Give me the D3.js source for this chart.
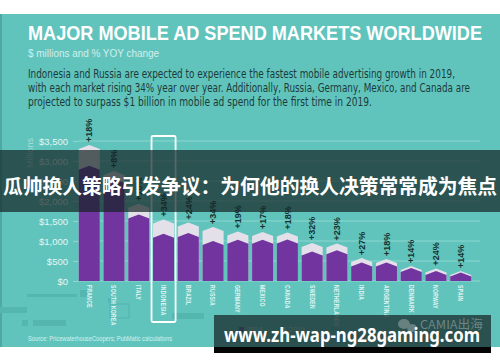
<!DOCTYPE html>
<html lang="en">

<head>
  <meta charset="UTF-8">
  <title>Major Mobile Ad Spend Markets Worldwide</title>
  <style>
    * {
      margin: 0;
      padding: 0;
      box-sizing: border-box;
    }

    body {
      background-color: #ffffff;
      width: 500px;
      height: 362px;
      overflow: hidden;
    }

    #chart {
      display: block;
    }

    .narrow {
      font-family: "Liberation Sans Narrow", "DejaVu Sans Condensed", "Roboto", sans-serif;
    }
  </style>
  <script src="https://cdnjs.cloudflare.com/ajax/libs/d3/7.8.5/d3.min.js"></script>
</head>

<body>
  <svg id="chart" width="500" height="362"></svg>

  <script>
    // chart data
    const countries = ['FRANCE', 'SOUTH KOREA', 'ITALY', 'INDONESIA', 'BRAZIL', 'RUSSIA', 'GERMANY', 'MEXICO',
      'CANADA', 'SWEDEN', 'NETHERLANDS', 'INDIA', 'ARGENTINA', 'DENMARK', 'NORWAY', 'SPAIN'];
    const spend2018 = [2880, 2550, 1660, 1180, 1200, 1000, 1030, 1030, 1040, 740, 770, 460, 465, 325, 250, 215];
    const spend2019 = [3400, 2750, 1930, 1540, 1460, 1350, 1240, 1225, 1210, 950, 935, 575, 550, 375, 310, 250];
    const growthLabels = ['+18%', '+8%', '+16%', '+34%', '+24%', '+34%', '+19%', '+17%',
      '+18%', '+32%', '+23%', '+27%', '+18%', '+14%', '+24%', '+14%'];
    const yTicks = [0, 500, 1000, 1500, 2000, 2500, 3000, 3500];
    const seriesNames = ['2018', '2019'];
    const highlighted = 'INDONESIA';

    const colors = {
      bg: '#60c4bd',
      grid: '#8bd6d0',
      purple: '#72349e',
      cap: '#e4e0ea',
      axisText: '#e4f6f4',
      dark: '#16302f'
    };

    const svg = d3.select('#chart');

    // background panel
    svg.append('rect')
      .attr('x', 0).attr('y', 14)
      .attr('width', 500).attr('height', 333)
      .attr('fill', colors.bg);
    svg.append('rect')
      .attr('x', 0).attr('y', 14)
      .attr('width', 2).attr('height', 333)
      .attr('fill', '#4fa9a3');

    // faded leftovers of the old legend block
    const ghosts = [[27, 294, 50, 3], [80, 290, 7, 7], [0, 307, 27, 6], [22, 320, 6, 6], [33, 320, 33, 6],
      [108, 298, 3, 5], [172, 313, 32, 6]];
    svg.append('g').selectAll('rect')
      .data(ghosts)
      .join('rect')
      .attr('x', d => d[0]).attr('y', d => d[1])
      .attr('width', d => d[2]).attr('height', d => d[3])
      .attr('fill', '#55b6af');
    svg.append('rect')
      .attr('x', 110).attr('y', 304).attr('width', 19).attr('height', 14)
      .attr('fill', 'none').attr('stroke', '#55b6af').attr('stroke-width', 1.2);

    // headings
    svg.append('text')
      .attr('x', 28).attr('y', 40)
      .attr('textLength', 454).attr('lengthAdjust', 'spacingAndGlyphs')
      .attr('fill', '#ffffff')
      .style('font-family', 'Liberation Sans, Arial, sans-serif')
      .style('font-size', '21px').style('font-weight', 'bold')
      .text('MAJOR MOBILE AD SPEND MARKETS WORLDWIDE');

    svg.append('text')
      .attr('x', 28).attr('y', 57)
      .attr('textLength', 131).attr('lengthAdjust', 'spacingAndGlyphs')
      .attr('fill', '#d3efec')
      .style('font-family', 'Liberation Sans, Arial, sans-serif')
      .style('font-size', '10px')
      .text('$ millions and % YOY change');

    const intro = [
      ['Indonesia and Russia are expected to experience the fastest mobile advertising growth in 2019,', 427],
      ['with each market rising 34% year over year. Additionally, Russia, Germany, Mexico, and Canada are', 442],
      ['projected to surpass $1 billion in mobile ad spend for the first time in 2019.', 344]
    ];
    svg.append('g').selectAll('text')
      .data(intro)
      .join('text')
      .attr('class', 'narrow')
      .attr('x', 28).attr('y', (d, i) => 78 + i * 14)
      .attr('textLength', d => d[1]).attr('lengthAdjust', 'spacingAndGlyphs')
      .attr('fill', '#1d3b3a')
      .style('font-size', '12px')
      .text(d => d[0]);

    // scales
    const x = d3.scaleBand()
      .domain(countries)
      .range([77, 473])
      .paddingInner(0.15)
      .paddingOuter(0.07);

    const y = d3.scaleLinear()
      .domain([0, 3500])
      .range([281, 141]);

    // grid
    svg.append('g').selectAll('line')
      .data(yTicks)
      .join('line')
      .attr('x1', 78).attr('x2', 480)
      .attr('y1', d => y(d)).attr('y2', d => y(d))
      .attr('stroke', colors.grid)
      .attr('stroke-width', 1.2);

    // y axis
    const yAxis = svg.append('g')
      .attr('transform', 'translate(78,0)')
      .call(d3.axisLeft(y)
        .tickValues(yTicks)
        .tickSize(5)
        .tickPadding(5)
        .tickFormat(d => '$' + d3.format(',')(d)));
    yAxis.select('.domain').remove();
    yAxis.selectAll('line').attr('stroke', colors.grid).attr('stroke-width', 1.2);
    yAxis.selectAll('text')
      .attr('fill', colors.axisText)
      .style('font-family', 'Liberation Sans, Arial, sans-serif')
      .style('font-size', '9.5px');

    svg.append('text')
      .attr('transform', 'translate(33,153) rotate(-90)')
      .attr('text-anchor', 'middle')
      .attr('fill', '#a6dcd8')
      .style('font-family', 'Liberation Sans, Arial, sans-serif')
      .style('font-size', '9px')
      .text('Millions');

    // bars with a pointed top
    const peak = 4;
    function barPath(name, value) {
      const x0 = x(name);
      const x1 = x0 + x.bandwidth();
      const xc = x0 + x.bandwidth() / 2;
      const top = y(value);
      return `M${x0},${y(0)} L${x0},${top + peak} L${xc},${top} L${x1},${top + peak} L${x1},${y(0)} Z`;
    }

    const bars = svg.append('g');
    bars.selectAll('path.cap')
      .data(countries)
      .join('path')
      .attr('class', 'cap')
      .attr('d', (d, i) => barPath(d, spend2019[i]))
      .attr('fill', colors.cap);
    bars.selectAll('path.base')
      .data(countries)
      .join('path')
      .attr('class', 'base')
      .attr('d', (d, i) => barPath(d, spend2018[i]))
      .attr('fill', colors.purple);

    // growth labels
    svg.append('g').selectAll('text')
      .data(countries)
      .join('text')
      .attr('transform', (d, i) => `translate(${x(d) + x.bandwidth() / 2 + 3.2},${y(spend2019[i]) - 3}) rotate(-90)`)
      .attr('fill', colors.dark)
      .style('font-family', 'Liberation Sans, Arial, sans-serif')
      .style('font-size', '9px')
      .style('font-weight', 'bold')
      .text((d, i) => growthLabels[i]);

    // country labels, condensed by a horizontal squeeze along the text
    svg.append('g').selectAll('text')
      .data(countries)
      .join('text')
      .attr('transform', d => `translate(${x(d) + x.bandwidth() / 2 - 2.6},285) rotate(90) scale(0.68,1)`)
      .attr('fill', colors.axisText)
      .style('font-family', 'Liberation Sans, Arial, sans-serif')
      .style('font-size', '7.5px')
      .style('font-weight', 'bold')
      .style('letter-spacing', '0.4px')
      .text(d => d);

    // highlight box
    svg.append('rect')
      .attr('x', x(highlighted) - 1.5)
      .attr('y', 136)
      .attr('width', x.bandwidth() + 3)
      .attr('height', 186)
      .attr('rx', 1.5)
      .attr('fill', 'none')
      .attr('stroke', '#ffffff')
      .attr('stroke-width', 1.8);

    // tiny legend
    const legend = svg.append('g').attr('transform', 'translate(239,327)');
    seriesNames.forEach((name, i) => {
      legend.append('rect')
        .attr('x', i * 42).attr('y', 0)
        .attr('width', 5).attr('height', 5)
        .attr('fill', i === 0 ? colors.purple : colors.cap);
      legend.append('text')
        .attr('x', i * 42 + 8).attr('y', 5)
        .attr('fill', colors.axisText)
        .style('font-family', 'Liberation Sans, Arial, sans-serif')
        .style('font-size', '7px')
        .text(name);
    });

    svg.append('text')
      .attr('x', 28).attr('y', 341)
      .attr('textLength', 144).attr('lengthAdjust', 'spacingAndGlyphs')
      .attr('fill', '#d6f1ee')
      .style('font-family', 'Liberation Sans, Arial, sans-serif')
      .style('font-size', '6.5px')
      .text('Source: PricewaterhouseCoopers; PubMatic calculations');

    // overlay banner across the chart
    svg.append('rect')
      .attr('x', 0).attr('y', 150)
      .attr('width', 500).attr('height', 62)
      .attr('fill', 'rgb(20,35,35)')
      .attr('fill-opacity', 0.7);
    svg.append('text')
      .attr('x', 250).attr('y', 194)
      .attr('text-anchor', 'middle')
      .attr('textLength', 494).attr('lengthAdjust', 'spacingAndGlyphs')
      .attr('fill', '#ffffff')
      .style('font-family', '"Noto Sans CJK SC", sans-serif')
      .style('font-size', '20px')
      .style('font-weight', 'bold')
      .text('瓜帅换人策略引发争议：为何他的换人决策常常成为焦点');

    // bottom url box
    svg.append('rect')
      .attr('x', 214).attr('y', 315)
      .attr('width', 277).attr('height', 32)
      .attr('fill', 'rgb(30,55,55)')
      .attr('fill-opacity', 0.82);
    svg.append('rect')
      .attr('x', 214).attr('y', 347)
      .attr('width', 277).attr('height', 6)
      .attr('fill', '#050505');

    // watermark
    const wm = svg.append('g').attr('opacity', 0.55);
    wm.append('ellipse').attr('cx', 404).attr('cy', 324).attr('rx', 6).attr('ry', 5).attr('fill', '#9aa8a8');
    wm.append('ellipse').attr('cx', 412).attr('cy', 328).attr('rx', 5).attr('ry', 4).attr('fill', '#9aa8a8');
    wm.append('text')
      .attr('x', 420).attr('y', 329)
      .attr('textLength', 63).attr('lengthAdjust', 'spacingAndGlyphs')
      .attr('fill', '#a4b2b2')
      .style('font-family', '"Noto Sans CJK SC", sans-serif')
      .style('font-size', '12px')
      .text('CAMIA出海');

    svg.append('text')
      .attr('x', 224).attr('y', 342)
      .attr('textLength', 256).attr('lengthAdjust', 'spacingAndGlyphs')
      .attr('fill', '#ffffff')
      .style('font-family', '"Noto Sans", "DejaVu Sans", sans-serif')
      .style('font-size', '20px')
      .style('font-weight', 'bold')
      .text('www.zh-wap-ng28gaming.com');
  </script>
</body>

</html>
